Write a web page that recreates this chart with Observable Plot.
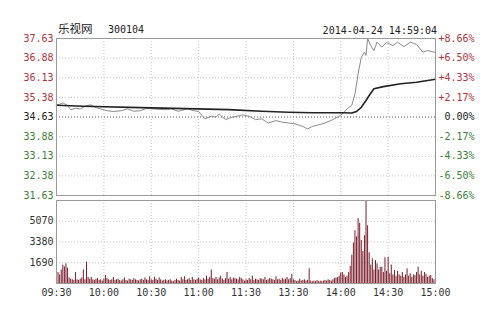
<!DOCTYPE html>
<html><head><meta charset="utf-8">
<script src="https://cdn.jsdelivr.net/npm/d3@7"></script>
<script src="https://cdn.jsdelivr.net/npm/@observablehq/plot@0.6"></script>
<style>
body{margin:0;background:#fff;}
#wrap{position:relative;width:500px;height:320px;overflow:hidden;font-family:"DejaVu Sans Mono",monospace;}
.t{position:absolute;font-size:10px;line-height:12px;color:#222;white-space:pre;}
#c1,#c2{position:absolute;left:0;}
#c1{top:0;} #c2{top:197px;}
</style></head><body>
<div id="wrap">
<div class="t" style="left:58px;top:21px;font-family:'Noto Sans CJK SC';font-size:11.5px;line-height:14px;">乐视网</div>
<div class="t" style="left:108px;top:24px;">300104</div>
<div class="t" style="right:63px;top:25px;">2014-04-24 14:59:04</div>
<div id="c1"></div>
<div id="c2"></div>
</div>
<script>
// ---- data ----
const prevClose = 34.63;
const priceTicks = [37.63, 36.88, 36.13, 35.38, 34.63, 33.88, 33.13, 32.38, 31.63];
const pctLabels = ["+8.66%", "+6.50%", "+4.33%", "+2.17%", "\u00a00.00%", "-2.17%", "-4.33%", "-6.50%", "-8.66%"];
const timeTicks = [0, 30, 60, 90, 120, 150, 180, 210, 240];
const timeLabels = ["09:30", "10:00", "10:30", "11:00", "11:30", "13:30", "14:00", "14:30", "15:00"];
const volTicks = [1690, 3380, 5070];

const priceMin = [0,2,4,7,9,12,15,19,22,25,28,32,36,41,45,49,53,57,61,68,73,77,83,87,90,94,98,101,103,107,111,118,122,126,130,134,139,143,147,151,156,159,162,166,170,175,179,182,184,187,189,191,193,195,196,197,199,201,203,206,209,213,216,220,224,228,232,235,239,240];
const priceVal = [35.08,35.12,35.17,35.07,34.91,34.96,34.94,35.07,35.09,34.99,34.94,34.87,34.84,34.87,34.94,34.85,34.87,34.96,34.94,34.91,34.94,34.85,34.94,34.87,34.84,34.56,34.66,34.62,34.75,34.53,34.62,34.71,34.66,34.53,34.56,34.40,34.49,34.43,34.40,34.37,34.27,34.17,34.27,34.33,34.40,34.53,34.66,34.81,34.94,35.07,35.51,36.28,36.91,37.11,36.98,37.63,37.36,37.17,37.49,37.30,37.48,37.36,37.49,37.32,37.49,37.40,37.11,37.17,37.11,37.10];

const avgMin = [0,17,60,89,109,130,147,162,181,187,190,193,196,198,201,207,218,228,239,240];
const avgVal = [35.08,35.04,34.98,34.94,34.91,34.85,34.81,34.79,34.79,34.78,34.84,35.00,35.26,35.45,35.71,35.79,35.90,35.96,36.06,36.07];

const volume = [
2800,900,700,1100,1500,1350,1600,1250,450,350,
300,250,900,300,250,350,450,1100,300,1750,
500,350,500,300,250,350,400,250,300,200,
350,650,400,300,250,300,500,250,300,350,
250,200,300,450,250,200,350,300,250,400,
300,250,200,300,350,250,450,300,250,550,
300,250,500,350,250,450,300,200,250,300,
200,250,300,200,150,250,350,250,200,500,
300,550,250,300,400,250,500,300,250,350,
450,300,250,400,300,600,350,500,1100,400,
350,500,300,450,600,350,250,400,900,350,
500,300,450,400,350,300,500,400,300,200,
300,250,400,300,600,250,350,300,250,400,
350,300,500,250,300,400,350,300,250,550,
300,350,250,400,300,350,500,300,400,750,
300,250,150,200,350,200,250,300,200,250,
1200,200,150,200,150,250,150,200,150,200,
250,200,300,250,200,300,400,450,500,600,
850,900,700,500,600,900,1400,2300,3300,4300,
3800,5300,4900,3500,2600,3900,6760,4700,2500,1500,
2000,1100,1870,1600,1100,1300,1330,900,2100,1000,
2140,800,1500,700,1060,600,1000,700,600,900,
500,700,1200,600,800,500,700,650,900,1330,
700,1000,600,900,750,500,600,650,400,300,
300
];

// ---- helpers ----
const priceData = priceMin.map((m, i) => ({m, v: priceVal[i]}));
const avgData = avgMin.map((m, i) => ({m, v: avgVal[i]}));
const volData = volume.map((v, m) => ({m, v}));
const tickColor = v => v > prevClose ? "#b0343c" : v < prevClose ? "#3d7f37" : "#222";
const gridStyle = {stroke: "#c4c4c4", strokeDasharray: "1,2"};
const font = {fontFamily: "DejaVu Sans Mono, monospace", fontSize: "10px", background: "transparent", overflow: "visible"};

const p1 = Plot.plot({
  width: 500, height: 200,
  marginTop: 38, marginBottom: 5, marginLeft: 56, marginRight: 65,
  x: {domain: [0, 240], axis: null},
  y: {domain: [31.63, 37.63], axis: null},
  color: {type: "identity"},
  style: font,
  marks: [
    Plot.ruleY(priceTicks.slice(1, -1).filter(v => v !== prevClose), gridStyle),
    Plot.ruleX(timeTicks.slice(1, -1), gridStyle),
    Plot.ruleY([prevClose], {stroke: "#555", strokeDasharray: "1,2"}),
    Plot.line(priceData, {x: "m", y: "v", stroke: "#8a8a8a", strokeWidth: 1}),
    Plot.line(avgData, {x: "m", y: "v", stroke: "#222", strokeWidth: 1.6}),
    Plot.frame({stroke: "#9a9a9a"}),
    Plot.text(priceTicks, {x: d => 0, y: d => d, text: d => d.toFixed(2), textAnchor: "end", dx: -3, fill: d => tickColor(d)}),
    Plot.text(priceTicks, {x: d => 240, y: d => d, text: (d, i) => pctLabels[i], textAnchor: "start", dx: 3, fill: d => tickColor(d)})
  ]
});
document.getElementById("c1").append(p1);

const p2 = Plot.plot({
  width: 500, height: 123,
  marginTop: 3, marginBottom: 37, marginLeft: 56, marginRight: 65,
  x: {domain: [0, 240]},
  y: {domain: [0, 6760], axis: null},
  style: font,
  marks: [
    Plot.ruleY(volTicks, gridStyle),
    Plot.ruleX(timeTicks.slice(1, -1), gridStyle),
    Plot.ruleX(volData, {x: "m", y1: 0, y2: "v", stroke: "#7a1c2a", strokeWidth: 1}),
    Plot.frame({stroke: "#9a9a9a"}),
    Plot.axisX(timeTicks, {tickSize: 0, tickPadding: 5, tickFormat: d => timeLabels[timeTicks.indexOf(d)], fill: "#333", label: null}),
    Plot.text(volTicks, {x: d => 0, y: d => d, text: d => String(d), textAnchor: "end", dx: -3, fill: "#333"})
  ]
});
document.getElementById("c2").append(p2);
</script>
</body></html>
